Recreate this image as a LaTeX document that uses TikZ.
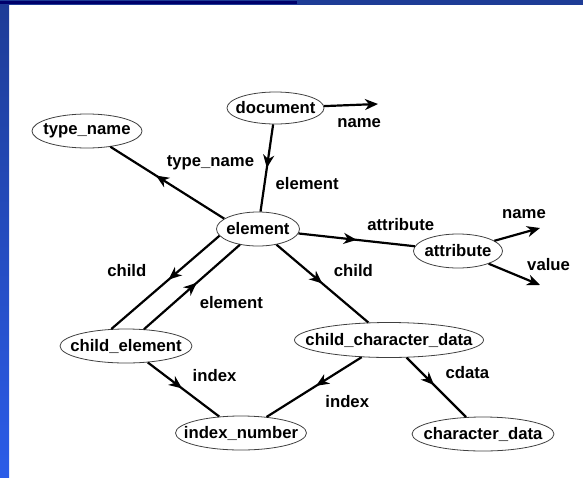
\documentclass[tikz,border=0pt]{standalone}
\usepackage{fontspec}
\setmainfont{Liberation Sans}
\usetikzlibrary{arrows.meta,positioning,shapes.geometric,decorations.markings}

\definecolor{framedark}{HTML}{00006B}
\definecolor{framebar}{HTML}{1E3C96}
\definecolor{framebot}{HTML}{2B5CE8}

\tikzset{
  ent/.style={draw=black!75, line width=0.8pt, ellipse, inner sep=0pt,
    minimum height=34pt, minimum width=#1,
    execute at begin node={\hbox to 0pt\bgroup\hss},
    execute at end node={\hss\egroup}},
  lbl/.style={inner sep=0pt},
  link/.style={draw, line width=2.2pt},
  mid/.style={postaction={decorate}, decoration={markings,
    mark=at position #1 with {\arrow{Stealth[length=13pt,width=11pt,inset=4pt]}}}}
}

\begin{document}
\begin{tikzpicture}[x=1pt, y=-1pt, on grid,
    font=\fontsize{16.7}{20}\selectfont\bfseries,
    >={Stealth[length=13pt,width=11pt,inset=4pt]}]
    % slide frame
    \useasboundingbox (0,0) rectangle (583,477);
    \shade[top color=framebar, bottom color=framebot] (0,0) rectangle (9,477);
    \fill[framebar] (0,0) rectangle (583,5);
    \fill[framedark] (0,1) rectangle (297,4);
    % entities
    \node [ent=83pt] (element) at (258,229) {element};
    \node [ent=97pt, minimum height=32pt, above right=121pt and 17.5pt of element] (document) {document};
    \node [ent=110pt, above left=98pt and 171pt of element] (type_name) {type\_name};
    \node [ent=89pt, below right=22pt and 200pt of element] (attribute) {attribute};
    \node [ent=132pt, below left=117pt and 132pt of element] (child_element) {child\_element};
    \node [ent=189pt, minimum height=35pt, below right=111pt and 131pt of element] (child_character_data) {child\_character\_data};
    \node [ent=131pt, below right=87pt and 115pt of child_element] (index_number) {index\_number};
    \node [ent=142pt, below right=94pt and 94pt of child_character_data] (character_data) {character\_data};
    \coordinate [above right=4pt and 102.5pt of document] (docname);
    \coordinate [above right=23pt and 82pt of attribute] (attrname);
    \coordinate [below right=34pt and 82pt of attribute] (attrvalue);
    % links
    \draw [link, mid=0.5] (document) -- (element)
        node [lbl, pos=0.68, anchor=west, xshift=10pt] (l_element) {element};
    \draw [link, ->] (document) -- (docname)
        node [lbl, pos=0.65, anchor=north, yshift=-13pt] (l_docname) {name};
    \draw [link, mid=0.6] (element.163) -- (type_name.-34)
        node [lbl, pos=0.54, anchor=south west, xshift=3pt, yshift=9pt] (l_type) {type\_name};
    \draw [link, mid=0.5] (element) -- (attribute)
        node [lbl, pos=0.6, anchor=south west, xshift=-2pt, yshift=9pt] (l_attr) {attribute};
    \draw [link, ->] (attribute) -- (attrname)
        node [lbl, pos=0.65, anchor=south, yshift=13pt] (l_attrname) {name};
    \draw [link, ->] (attribute) -- (attrvalue)
        node [lbl, pos=0.73, anchor=south west, yshift=7pt] (l_value) {value};
    \draw [link, mid=0.47] (element.190) -- (child_element.131)
        node [lbl, pos=0.37, anchor=east, xshift=-32pt] (l_child1) {child};
    \draw [link, mid=0.55] (child_element.43) -- (element.221.6)
        node [lbl, pos=0.32, anchor=west, xshift=24pt] (l_parent) {element};
    \draw [link, mid=0.5] (element) -- (child_character_data)
        node [lbl, pos=0.33, anchor=west, xshift=26pt] (l_child2) {child};
    \draw [link, mid=0.48] (child_element) -- (index_number)
        node [lbl, pos=0.25, anchor=west, xshift=26pt] (l_index1) {index};
    \draw [link, mid=0.48] (child_character_data) -- (index_number)
        node [lbl, pos=0.75, anchor=west, xshift=34pt] (l_index2) {index};
    \draw [link, mid=0.46] (child_character_data) -- (character_data)
        node [lbl, pos=0.25, anchor=west, xshift=23pt] (l_cdata) {cdata};
\end{tikzpicture}
\end{document}
